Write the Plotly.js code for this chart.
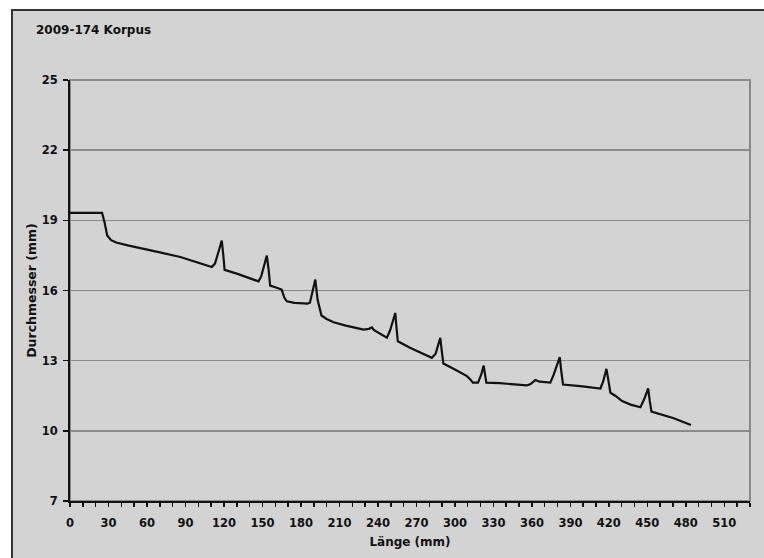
<!DOCTYPE html>
<html>
<head>
<meta charset="utf-8">
<script src="https://cdn.plot.ly/plotly-3.0.1.min.js"></script>
<style>
  html, body { margin: 0; padding: 0; background: #ffffff; }
  #chart { width: 764px; height: 558px; }
</style>
</head>
<body>
<div id="chart"></div>
<script>
// Länge (mm)
const laenge = [0, 10, 20, 25, 27, 29, 32, 36, 45, 55, 70, 86, 100, 110.5, 113, 116, 118.3, 119.5, 120.5,
  130, 140, 147, 149, 151.5, 153.4, 154.8, 156, 160, 165, 167, 169, 175, 185, 187, 189.5, 191.2, 193, 196,
  200, 205.5, 215, 228.8, 233, 235.3, 237, 247, 249.5, 252, 253.5, 254.5, 255.5, 265, 275, 282, 285, 287.5,
  288.6, 289.8, 291, 300, 309.4, 312, 314, 318, 320.5, 322.4, 323.5, 324.5, 335, 351, 356, 359, 362.7, 366,
  374.4, 377, 380, 381.7, 383, 384.3, 397.8, 413.4, 415.5, 418.1, 419.5, 421.2, 425, 430.3, 437, 444.6,
  447.5, 450.6, 451.8, 453.2, 470, 484];
// Durchmesser (mm)
const durchmesser = [19.32, 19.32, 19.32, 19.32, 18.9, 18.35, 18.15, 18.05, 17.93, 17.82, 17.63, 17.43, 17.2, 17.0, 17.15, 17.7, 18.13, 17.5, 16.88,
  16.72, 16.52, 16.39, 16.6, 17.1, 17.49, 16.9, 16.21, 16.14, 16.04, 15.7, 15.54, 15.47, 15.44, 15.48, 16.0, 16.47, 15.6, 14.93,
  14.78, 14.64, 14.5, 14.33, 14.36, 14.42, 14.3, 13.98, 14.3, 14.75, 15.04, 14.4, 13.83, 13.55, 13.3, 13.12, 13.3, 13.75,
  13.98, 13.4, 12.88, 12.62, 12.34, 12.2, 12.06, 12.06, 12.4, 12.79, 12.4, 12.06, 12.04, 11.98, 11.94, 12.0, 12.17, 12.1,
  12.06, 12.4, 12.9, 13.15, 12.5, 11.98, 11.91, 11.81, 12.1, 12.65, 12.2, 11.63, 11.5, 11.27, 11.12, 11.01,
  11.35, 11.81, 11.3, 10.82, 10.55, 10.25];

const chartTitle = "2009-174 Korpus";
const xTitle = "Länge (mm)";
const yTitle = "Durchmesser (mm)";

const FONT = "DejaVu Sans, Verdana, sans-serif";
const BG = "#d3d3d3";
const INK = "#111111";

const trace = {
  x: laenge,
  y: durchmesser,
  type: "scatter",
  mode: "lines",
  line: { color: INK, width: 2.2 },
  hoverinfo: "x+y"
};

const layout = {
  width: 764,
  height: 558,
  margin: { l: 70, r: 14, t: 80, b: 57 },
  paper_bgcolor: "#ffffff",
  plot_bgcolor: "rgba(0,0,0,0)",
  showlegend: false,
  font: { family: FONT, color: INK },
  title: {
    text: chartTitle,
    font: { family: FONT, size: 12, weight: "bold", color: INK },
    xref: "container", x: 36 / 764, xanchor: "left",
    yref: "container", y: 1 - 30 / 558, yanchor: "middle"
  },
  xaxis: {
    range: [0, 530],
    tick0: 0,
    dtick: 30,
    ticks: "outside",
    ticklen: 4,
    tickwidth: 1.5,
    tickcolor: INK,
    ticklabelstandoff: 6,
    minor: { dtick: 10, ticks: "outside", ticklen: 4, tickwidth: 1.5, tickcolor: INK, showgrid: false },
    showgrid: false,
    zeroline: false,
    showline: true,
    linecolor: INK,
    linewidth: 2,
    tickfont: { family: FONT, size: 11.5, weight: "bold", color: INK },
    title: { text: xTitle, font: { family: FONT, size: 12, weight: "bold", color: INK }, standoff: 9 },
    fixedrange: true
  },
  yaxis: {
    range: [7, 25],
    tick0: 7,
    dtick: 3,
    ticks: "outside",
    ticklen: 5,
    tickwidth: 1.5,
    tickcolor: INK,
    ticklabelstandoff: 3,
    showgrid: true,
    gridcolor: "#8a8a8a",
    gridwidth: 1.5,
    zeroline: false,
    showline: true,
    linecolor: INK,
    linewidth: 2,
    tickfont: { family: FONT, size: 11.5, weight: "bold", color: INK },
    title: { text: yTitle, font: { family: FONT, size: 12.5, weight: "bold", color: INK }, standoff: 2 },
    fixedrange: true
  },
  shapes: [
    // outer chart frame (gray panel with dark border on top/left)
    {
      type: "rect", xref: "paper", yref: "paper", layer: "below",
      x0: (12 - 70) / 680, x1: (780 - 70) / 680,
      y0: (501 - 570) / 421, y1: (501 - 10) / 421,
      fillcolor: BG, line: { color: "#333333", width: 2 }
    },
    // plot area border (gray)
    {
      type: "rect", xref: "paper", yref: "paper", layer: "below",
      x0: 0, x1: 1, y0: 0, y1: 1,
      fillcolor: BG, line: { color: "#8a8a8a", width: 2 }
    }
  ]
};

Plotly.newPlot("chart", [trace], layout, { displayModeBar: false, staticPlot: true });
</script>
</body>
</html>
